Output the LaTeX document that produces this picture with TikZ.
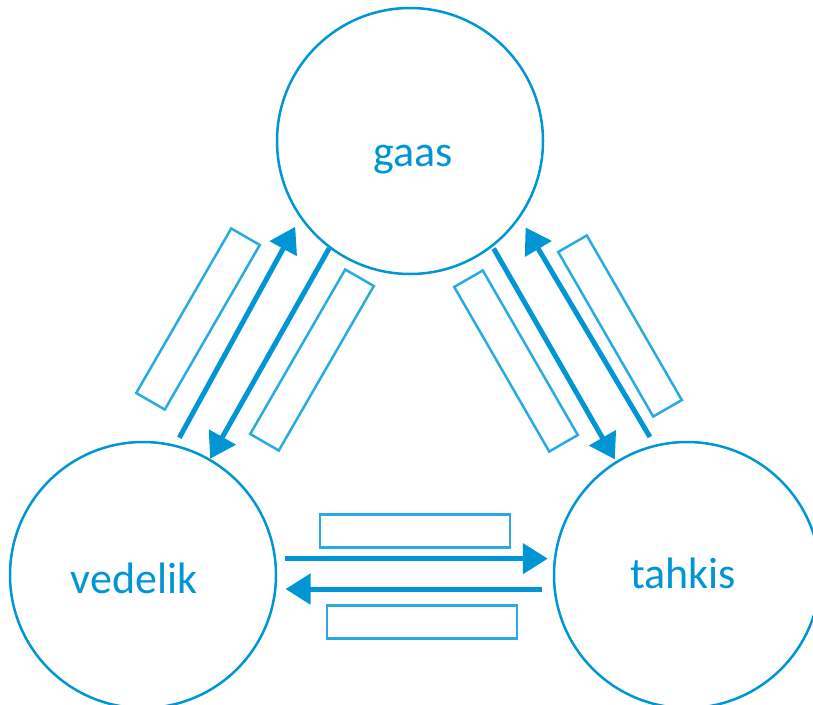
\documentclass[tikz,border=0pt]{standalone}
\usepackage{fontspec}
\setmainfont{Carlito}
\usepackage{xcolor}
\usepackage{tikz}
\usetikzlibrary{arrows.meta}
\definecolor{phaseblue}{RGB}{0,150,214}
\definecolor{slotblue}{RGB}{41,170,226}

\begin{document}
\begin{tikzpicture}[x=1pt, y=-1pt, every node/.style={font=\fontsize{44}{50}\selectfont, text=phaseblue}, phase/.style={draw=phaseblue, line width=2.5pt, circle, minimum size=266pt, inner sep=0pt}, slot/.style={draw=slotblue, line width=2.5pt, minimum width=190pt, minimum height=33pt, inner sep=0pt}, flow/.style={draw=phaseblue, line width=5pt, -{Triangle[length=25pt,width=30pt]}}]
\useasboundingbox (0,0) rectangle (813,704);
\node[phase] (gaas) at (410,141) {};
\node[phase] (vedelik) at (143,575) {};
\node[phase] (tahkis) at (687,575) {};
\node[anchor=base] (gaastxt) at (413,166) {gaas};
\node[anchor=base] (vedeliktxt) at (134,593) {vedelik};
\node[anchor=base] (tahkistxt) at (683,588) {tahkis};
% empty slots for the transition names
\node[slot, rotate=60] (aur) at (198,319) {};
\node[slot, rotate=60] (kond) at (312,360) {};
\node[slot, rotate=-60] (harm) at (516,361) {};
\node[slot, rotate=-60] (subl) at (620,326) {};
\node[slot] (tahk) at (415,531) {};
\node[slot] (sul) at (422,622) {};
\draw[flow, shorten <=8pt, shorten >=10pt] (vedelik.76) -- (gaas.215);
\draw[flow] (gaas.233) -- (vedelik.60);
\draw[flow, shorten <=2pt, shorten >=2pt] (gaas.308) -- (tahkis.122);
\draw[flow, shorten <=9pt, shorten >=11pt] (tahkis.104) -- (gaas.325);
\draw[flow, shorten <=9pt, shorten >=6pt] (vedelik.7) -- (tahkis.173);
\draw[flow, shorten <=11pt, shorten >=9pt] (tahkis.186) -- (vedelik.354);
\end{tikzpicture}
\end{document}
